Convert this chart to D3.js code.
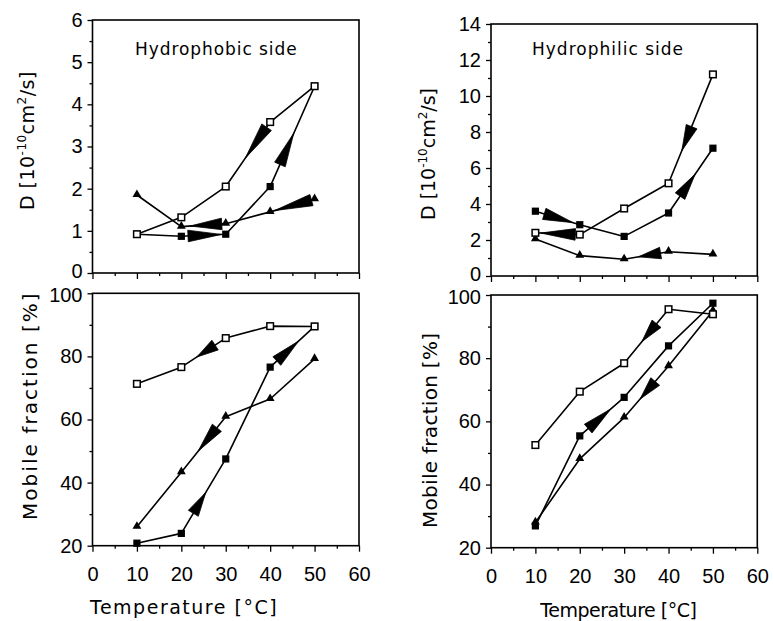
<!DOCTYPE html>
<html><head><meta charset="utf-8">
<script src="https://cdn.jsdelivr.net/npm/d3@7"></script>
<style>body{margin:0;background:#fff} svg{display:block}</style>
</head><body>
<svg id="c" width="774" height="621"></svg>
<script>
// ---------- data ----------
const temps = [10, 20, 30, 40, 50];
const xTickValues = [0, 10, 20, 30, 40, 50, 60];
const xMinorTicks = [5, 15, 25, 35, 45, 55];
const dPhobicTicks = [0, 1, 2, 3, 4, 5, 6];
const dPhilicTicks = [0, 2, 4, 6, 8, 10, 12, 14];
const mfTicks = [20, 40, 60, 80, 100];

const phobicD_open   = [0.92, 1.32, 2.05, 3.58, 4.43];
const phobicD_filled = [0.92, 0.87, 0.92, 2.05, 4.43];
const phobicD_tri    = [1.85, 1.10, 1.17, 1.45, 1.75];

const philicD_open   = [2.40, 2.30, 3.75, 5.15, 11.2];
const philicD_filled = [3.60, 2.85, 2.20, 3.50, 7.10];
const philicD_tri    = [2.05, 1.13, 0.93, 1.35, 1.20];

const phobicMF_open   = [71.3, 76.6, 85.8, 89.6, 89.5];
const phobicMF_filled = [20.8, 23.9, 47.5, 76.6, 89.5];
const phobicMF_tri    = [26.0, 43.3, 60.9, 66.5, 79.2];

const philicMF_open   = [52.5, 69.4, 78.4, 95.5, 93.9];
const philicMF_filled = [26.9, 55.4, 67.6, 83.9, 97.4];
const philicMF_tri    = [28.0, 48.1, 61.2, 77.5, 95.0];

// arrows: [series, fromIndex, toIndex, baseFraction, tipFraction]
const arrows_phobicD  = [["open",3,2,0.08,0.56],["filled",3,4,0.22,0.53],["filled",1,2,0.15,0.90],["tri",2,1,0.09,0.80],["tri",4,3,0.07,0.90]];
const arrows_philicD  = [["filled",0,1,0.20,0.85],["open",1,0,0.10,0.88],["open",4,3,0.48,0.70],["filled",3,4,0.26,0.60],["tri",3,2,0.18,0.68]];
const arrows_phobicMF = [["open",2,1,0.24,0.65],["filled",3,4,0.15,0.64],["tri",2,1,0.20,0.62],["filled",1,2,0.27,0.55]];
const arrows_philicMF = [["open",3,2,0.27,0.60],["filled",1,2,0.19,0.70],["tri",3,2,0.30,0.64]];

const titleTL = "Hydrophobic side";
const titleTR = "Hydrophilic side";
const xTitle = "Temperature [°C]";
const mfTitle = "Mobile fraction [%]";

// ---------- layout ----------
const panels = [
  {xr:[92.5,359], yr:[273,20], yDomain:[0,6], yTicks:dPhobicTicks, yMinorStep:0.5,
   series:{open:phobicD_open, filled:phobicD_filled, tri:phobicD_tri}, arrows:arrows_phobicD, xLabels:false, row:0},
  {xr:[491,757.3], yr:[276,24], yDomain:[0,14], yTicks:dPhilicTicks, yMinorStep:1,
   series:{open:philicD_open, filled:philicD_filled, tri:philicD_tri}, arrows:arrows_philicD, xLabels:false, row:0},
  {xr:[92.5,359], yr:[545.7,293.3], yDomain:[20,100], yTicks:mfTicks, yMinorStep:10,
   series:{open:phobicMF_open, filled:phobicMF_filled, tri:phobicMF_tri}, arrows:arrows_phobicMF, xLabels:true, row:1},
  {xr:[491,757.3], yr:[547.7,295], yDomain:[20,100], yTicks:mfTicks, yMinorStep:10,
   series:{open:philicMF_open, filled:philicMF_filled, tri:philicMF_tri}, arrows:arrows_philicMF, xLabels:true, row:1}
];

const svg = d3.select("#c");
const numFont = "'Liberation Sans Narrow', 'Arial Narrow', sans-serif";
const txtFont = "'DejaVu Sans', sans-serif";

panels.forEach(p => {
  const x = d3.scaleLinear().domain([0,60]).range(p.xr);
  const y = d3.scaleLinear().domain(p.yDomain).range(p.yr);
  const g = svg.append("g");

  // minor ticks
  const yMinor = d3.range(p.yDomain[0], p.yDomain[1] + 1e-9, p.yMinorStep).filter(v => !p.yTicks.includes(+v.toFixed(6)));
  g.append("g").attr("transform", `translate(0,${p.yr[0]})`)
    .call(d3.axisBottom(x).tickValues(xMinorTicks).tickSize(3).tickSizeOuter(0).tickFormat(""))
    .call(a => a.select(".domain").remove());
  g.append("g").attr("transform", `translate(${p.xr[0]},0)`)
    .call(d3.axisLeft(y).tickValues(yMinor).tickSize(3).tickSizeOuter(0).tickFormat(""))
    .call(a => a.select(".domain").remove());

  // major x ticks
  const xa = g.append("g").attr("transform", `translate(0,${p.yr[0]})`)
    .call(d3.axisBottom(x).tickValues(xTickValues).tickSize(6).tickSizeOuter(0).tickPadding(15)
      .tickFormat(p.xLabels ? d3.format("d") : ""));
  xa.select(".domain").remove();
  // major y ticks
  const ya = g.append("g").attr("transform", `translate(${p.xr[0]},0)`)
    .call(d3.axisLeft(y).tickValues(p.yTicks).tickSize(5).tickSizeOuter(0).tickPadding(5).tickFormat(d3.format("d")));
  ya.select(".domain").remove();
  g.selectAll(".tick line").attr("stroke", "#000").attr("stroke-width", 1.3);
  g.selectAll(".tick text").attr("font-family", numFont).attr("font-size", 20).attr("fill", "#000");
  // keep the stacked end labels (top row bottom label / bottom row top label) apart
  const yDom = p.yDomain;
  ya.selectAll(".tick text")
    .attr("transform", d => (p.row === 0 && d === yDom[0]) ? "translate(0,-2)" :
                            (p.row === 1 && d === yDom[1]) ? "translate(0,2)" : null);

  // frame
  g.append("rect").attr("x", p.xr[0]).attr("y", p.yr[1])
    .attr("width", p.xr[1] - p.xr[0]).attr("height", p.yr[0] - p.yr[1])
    .attr("fill", "none").attr("stroke", "#000").attr("stroke-width", 1.6);

  // lines
  const line = d3.line().x((d, i) => x(temps[i])).y(d => y(d));
  ["tri", "filled", "open"].forEach(k => {
    g.append("path").attr("d", line(p.series[k])).attr("fill", "none")
      .attr("stroke", "#000").attr("stroke-width", 1.6).attr("stroke-linejoin", "round");
  });

  // arrows (wedge arrowheads on segments)
  p.arrows.forEach(([k, i0, i1, a, b]) => {
    const v = p.series[k];
    const x0 = x(temps[i0]), y0 = y(v[i0]), x1 = x(temps[i1]), y1 = y(v[i1]);
    const bx = x0 + (x1 - x0) * a, by = y0 + (y1 - y0) * a;
    const tx = x0 + (x1 - x0) * b, ty = y0 + (y1 - y0) * b;
    const len = Math.hypot(tx - bx, ty - by);
    const nx = -(ty - by) / len, ny = (tx - bx) / len;
    const w = 5.8;
    g.append("path")
      .attr("d", `M${bx + nx * w},${by + ny * w}L${tx},${ty}L${bx - nx * w},${by - ny * w}Z`)
      .attr("fill", "#000").attr("stroke", "#000").attr("stroke-width", 0.8);
  });

  // markers
  g.selectAll(null).data(p.series.tri).join("path")
    .attr("transform", (d, i) => `translate(${x(temps[i])},${y(d) - 0.5})`)
    .attr("d", d3.symbol(d3.symbolTriangle, 34)).attr("fill", "#000");
  g.selectAll(null).data(p.series.filled).join("rect")
    .attr("x", (d, i) => x(temps[i]) - 3.6).attr("y", d => y(d) - 3.6)
    .attr("width", 7.2).attr("height", 7.2).attr("fill", "#000");
  g.selectAll(null).data(p.series.open).join("rect")
    .attr("x", (d, i) => x(temps[i]) - 3.3).attr("y", d => y(d) - 3.3)
    .attr("width", 6.6).attr("height", 6.6).attr("fill", "#fff")
    .attr("stroke", "#000").attr("stroke-width", 1.5);
});

// ---------- texts ----------
function fit(sel, L) {
  const n = sel.text().length;
  const nat = sel.node().getComputedTextLength();
  sel.attr("letter-spacing", ((L - nat) / (n - 1)).toFixed(2));
}

function hText(str, x0, x1, baseline, size) {
  const t = svg.append("text").attr("x", x0).attr("y", baseline)
    .attr("font-family", txtFont).attr("font-size", size).attr("fill", "#000").text(str);
  fit(t, x1 - x0);
}
hText(titleTL, 135, 296.7, 55, 17);
hText(titleTR, 532, 683, 55, 17);
hText(xTitle, 90, 276.7, 614, 19);
hText(xTitle, 540.3, 697, 617, 19);

function vText(build, bx, yStart, yEnd, size) {
  const t = svg.append("text").attr("transform", `translate(${bx},${yStart}) rotate(-90)`)
    .attr("font-family", txtFont).attr("font-size", size).attr("fill", "#000");
  build(t);
  fit(t, yStart - yEnd);
}
const buildD = t => {
  t.append("tspan").text("D [10");
  t.append("tspan").attr("font-size", 12).attr("dy", -8).text("-10");
  t.append("tspan").attr("dy", 8).text("cm");
  t.append("tspan").attr("font-size", 12).attr("dy", -8).text("2");
  t.append("tspan").attr("dy", 8).text("/s]");
};
const buildMF = t => t.text(mfTitle);
vText(buildD, 33.5, 210, 71.7, 19);
vText(buildD, 435, 220, 88, 19);
vText(buildMF, 36.5, 520, 293.3, 20);
vText(buildMF, 437, 528, 333, 20);
</script>
</body></html>
